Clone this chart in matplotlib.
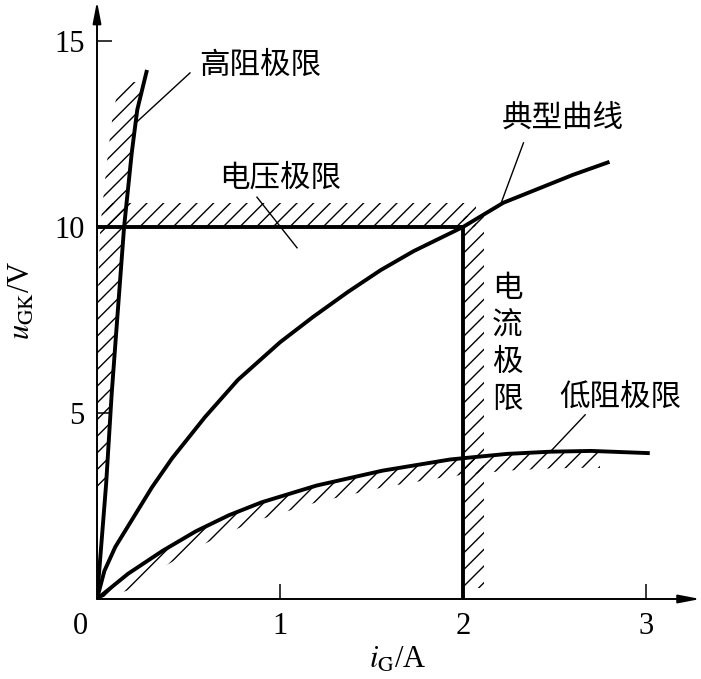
import numpy as np
import matplotlib.pyplot as plt
from matplotlib.patches import Rectangle

plt.rcParams['font.family'] = ['Liberation Serif', 'Noto Sans CJK SC']
plt.rcParams['mathtext.fontset'] = 'stix'
plt.rcParams['hatch.linewidth'] = 1.0

# curves (i_G in A, u_GK in V)
typ_i = [0, 0.04, 0.1, 0.2, 0.3, 0.41, 0.59, 0.77, 1.0, 1.18, 1.37, 1.55, 1.73, 2.0, 2.22, 2.6, 2.8]
typ_u = [0, 0.75, 1.4, 2.2, 3.0, 3.78, 4.89, 5.89, 6.9, 7.58, 8.25, 8.84, 9.35, 10.0, 10.65, 11.4, 11.75]

lo_i = [0, 0.17, 0.36, 0.54, 0.72, 0.9, 1.2, 1.56, 1.93, 2.24, 2.48, 2.7, 3.02]
lo_u = [0, 0.68, 1.3, 1.82, 2.25, 2.6, 3.05, 3.45, 3.75, 3.9, 3.96, 3.98, 3.92]

hi_i = [0, 0.05, 0.08, 0.11, 0.148, 0.19, 0.22, 0.273]
hi_u = [0, 3.1, 5.5, 7.5, 10.0, 12.0, 13.15, 14.22]

i_lim = 2.0    # 电流极限
u_lim = 10.0   # 电压极限

x_ticks = [1, 2, 3]
y_ticks = [5, 10, 15]

fig = plt.figure(figsize=(7.01, 6.79), dpi=100)
ax = fig.add_axes([97 / 701, 80 / 679, 604 / 701, 599 / 679])
ax.set_xlim(0, 3.30)
ax.set_ylim(0, 16.10)
for s in ax.spines.values():
    s.set_visible(False)

# axes with arrows
arw = dict(arrowstyle='-|>,head_length=1.3,head_width=0.25', color='black', lw=1.4,
           shrinkA=0, shrinkB=0)
ax.annotate('', xy=(0.999, 0), xytext=(0, 0), xycoords='axes fraction', arrowprops=arw)
ax.annotate('', xy=(0, 0.998), xytext=(0, 0), xycoords='axes fraction', arrowprops=arw)

ax.set_xticks(x_ticks)
ax.set_yticks(y_ticks)
ax.set_xticklabels([str(t) for t in x_ticks])
ax.set_yticklabels([str(t) for t in y_ticks])
ax.tick_params(direction='in', length=11, width=1.1, labelsize=22, pad=9)
ax.text(-0.05, -0.35, '0', fontsize=22, ha='right', va='top', clip_on=False)

ax.set_xlabel(r'$i_{\mathrm{G}}$/A', fontsize=22)
ax.set_ylabel(r'$u_{\mathrm{GK}}$/V', fontsize=22)
ax.xaxis.label.set_va('center')
ax.yaxis.label.set_va('center')
ax.xaxis.set_label_coords((398 - 97) / 604, -(660 - 599) / 599)
ax.yaxis.set_label_coords(-(97 - 22) / 604, (599 - 300) / 599)

hk = dict(facecolor='none', edgecolor='black', hatch='//', linewidth=0)

# hatch of high-resistance limit (left of the line)
hi_i_a = np.array(hi_i)
band = ax.fill_betweenx(hi_u, np.maximum(hi_i_a - 0.13, 0), hi_i_a, **hk)
band.set_clip_path(Rectangle((0, 3.0), 1, 10.9, transform=ax.transData))

# hatch of low-resistance limit (below the curve)
lo_u_a = np.array(lo_u)
band = ax.fill_between(lo_i, np.maximum(lo_u_a - 0.45, 0), lo_u_a, **hk)
band.set_clip_path(Rectangle((0.02, 0), 2.73, 5, transform=ax.transData))

# hatch of voltage and current limits
ax.add_patch(Rectangle((0.05, u_lim), i_lim + 0.07 - 0.05, 0.65, **hk))
ax.add_patch(Rectangle((i_lim, 0.3), 0.115, u_lim, **hk))

lw = 2.8
ax.plot(typ_i, typ_u, color='black', lw=lw, solid_capstyle='butt')
ax.plot(lo_i, lo_u, color='black', lw=lw, solid_capstyle='butt')
ax.plot(hi_i, hi_u, color='black', lw=lw, solid_capstyle='butt')
ax.plot([0, i_lim], [u_lim, u_lim], color='black', lw=lw)
ax.plot([i_lim, i_lim], [0, u_lim], color='black', lw=lw)

# labels with leader lines
labels = [
    ('高阻极限', (0.89, 14.33), (0.508, 14.14), (0.219, 12.83)),
    ('电压极限', (1.0, 11.32), (0.874, 10.8), (1.093, 9.44)),
    ('典型曲线', (2.546, 12.93), (2.33, 12.26), (2.21, 10.67)),
    ('低阻极限', (2.858, 5.43), (2.667, 4.95), (2.475, 3.95)),
]
for txt, pos, p0, p1 in labels:
    ax.text(pos[0], pos[1], txt, fontsize=22, ha='center', va='center',
            family=['Noto Sans CJK SC'])
    ax.plot([p0[0], p1[0]], [p0[1], p1[1]], color='black', lw=1.0)

ax.text(2.24, 6.85, '电\n流\n极\n限', fontsize=22, ha='center', va='center',
        linespacing=1.25, family=['Noto Sans CJK SC'])

fig.savefig('out.png', dpi=100)
